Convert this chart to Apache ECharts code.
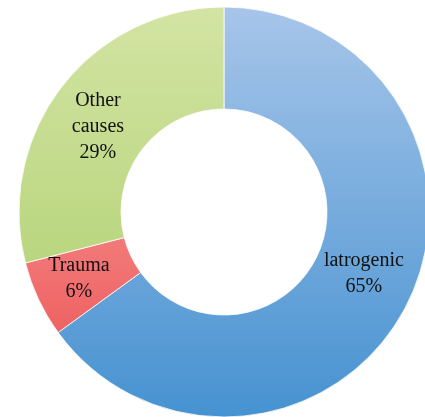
<!DOCTYPE html>
<html><head><meta charset="utf-8">
<script src="https://cdn.jsdelivr.net/npm/echarts@6/dist/echarts.min.js"></script>
<style>html,body{margin:0;padding:0;background:#fff;}#c{width:425px;height:417px;}</style>
</head><body><div id="c"></div>
<script>
const categories = ['Iatrogenic', 'Trauma', 'Other causes'];
const values = [65, 6, 29];
const labelTexts = ['latrogenic\n65%', 'Trauma\n6%', 'Other\ncauses\n29%'];

const colorStops = [
  ['#a7c5e9', '#4692d1'],
  ['#f37a7a', '#ee6262'],
  ['#d3e4a3', '#b9d67f']
];
const labelOffsets = [[0, -10], [-3, 0], [-2, 11]];

const chart = echarts.init(document.getElementById('c'), null, {renderer: 'canvas'});
chart.setOption({
  animation: false,
  series: [{
    type: 'pie',
    center: [224, 212],
    radius: [103, 205],
    startAngle: 90,
    clockwise: true,
    avoidLabelOverlap: false,
    itemStyle: {borderColor: '#ffffff', borderWidth: 0.8},
    label: {
      show: true,
      position: 'inside',
      fontFamily: 'Liberation Serif, DejaVu Serif, serif',
      fontSize: 20,
      lineHeight: 26,
      color: '#111',
      align: 'center'
    },
    labelLine: {show: false},
    data: categories.map((name, i) => ({
      name: name,
      value: values[i],
      label: {formatter: labelTexts[i], offset: labelOffsets[i]},
      itemStyle: {
        color: new echarts.graphic.LinearGradient(0, 0, 0, 1, [
          {offset: 0, color: colorStops[i][0]},
          {offset: 1, color: colorStops[i][1]}
        ])
      }
    }))
  }]
});
</script></body></html>
